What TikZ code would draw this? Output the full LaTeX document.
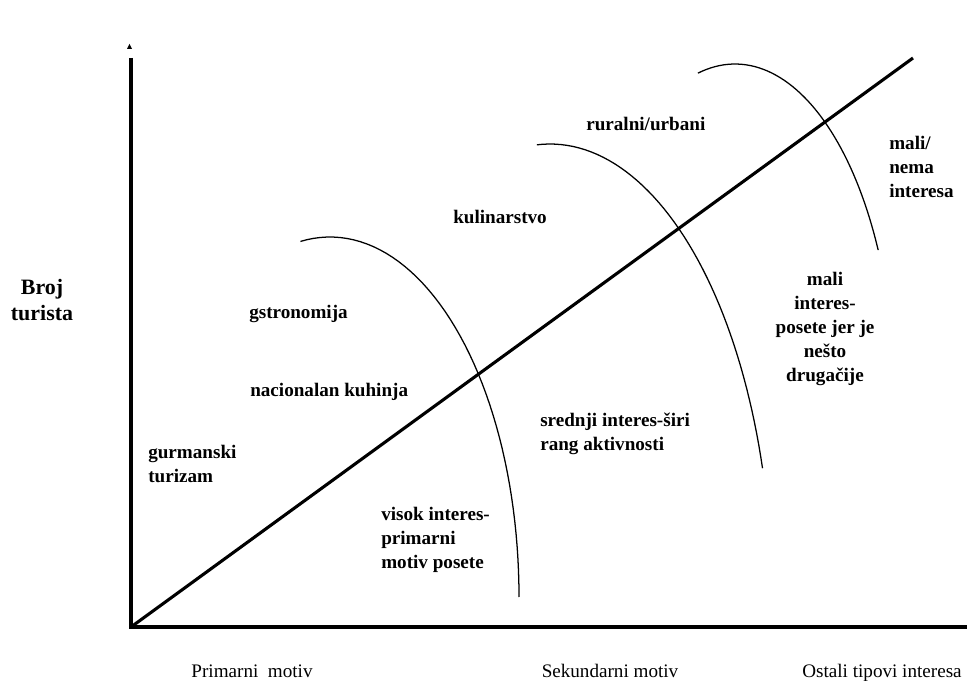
\documentclass[tikz,border=0pt]{standalone}
\usepackage{fontspec}
\setmainfont{Liberation Serif}[BoldFont={Liberation Serif Bold}]
\tikzset{
  lbl/.style={font=\fontsize{13.6}{17}\selectfont\bfseries, inner sep=0pt, align=left},
  axlbl/.style={font=\fontsize{13.6}{17}\selectfont, inner sep=0pt},
  axis/.style={line width=2.4pt},
  arcline/.style={line width=0.9pt}
}
\begin{document}
\begin{tikzpicture}[x=0.025cm, y=-0.025cm]
  \useasboundingbox (0,0) rectangle (967,681);
  % axes
  \coordinate (O) at (131,627);
  \coordinate (ytop) at (131,58);
  \coordinate (xend) at (967,627);
  \coordinate (dtop) at (913,58);
  \draw [axis] (ytop) -- (O) -- (xend);
  \fill (127,49) -- (129.5,44) -- (132,49) -- cycle;
  \draw [line width=2.2pt] (O) -- (dtop);
  % interest curves
  \draw [arcline] plot [domain=99:0, samples=50] ({330+189*cos(\x)}, {597-360*sin(\x)});
  \draw [arcline] plot [domain=93.4:16.8, samples=50] ({550+222*cos(\x)}, {600-456*sin(\x)});
  \draw [arcline] plot [domain=103.4:26.5, samples=50] ({735+160*cos(\x)}, {400-336*sin(\x)});
  % labels
  \draw (42,300) node (broj) [lbl, align=center, font=\fontsize{15.6}{19}\selectfont\bfseries] {Broj\\turista} ;
  \draw (249,319) node (gastro) [lbl, anchor=base west] {gstronomija} ;
  \draw (453,224) node (kulin) [lbl, anchor=base west] {kulinarstvo} ;
  \draw (586,131) node (rural) [lbl, anchor=base west] {ruralni/urbani} ;
  \draw (889,167) node (nema) [lbl, anchor=west] {mali/\\nema\\interesa} ;
  \draw (825,329) node (malo) [lbl, align=center] {mali\\interes-\\posete jer je\\nešto\\drugačije} ;
  \draw (250,397) node (kuhinja) [lbl, anchor=base west] {nacionalan kuhinja} ;
  \draw (148,464) node (gurman) [lbl, anchor=west] {gurmanski\\turizam} ;
  \draw (381,540) node (visok) [lbl, anchor=west] {visok interes-\\primarni\\motiv posete} ;
  \draw (540,434) node (srednji) [lbl, anchor=west] {srednji interes-širi\\rang aktivnosti} ;
  % axis labels
  \draw (252,677) node (prim) [axlbl, anchor=base] {Primarni\ \ motiv} ;
  \draw (610,677) node (sek) [axlbl, anchor=base] {Sekundarni motiv} ;
  \draw (882,677) node (ostali) [axlbl, anchor=base] {Ostali tipovi interesa} ;
\end{tikzpicture}
\end{document}
